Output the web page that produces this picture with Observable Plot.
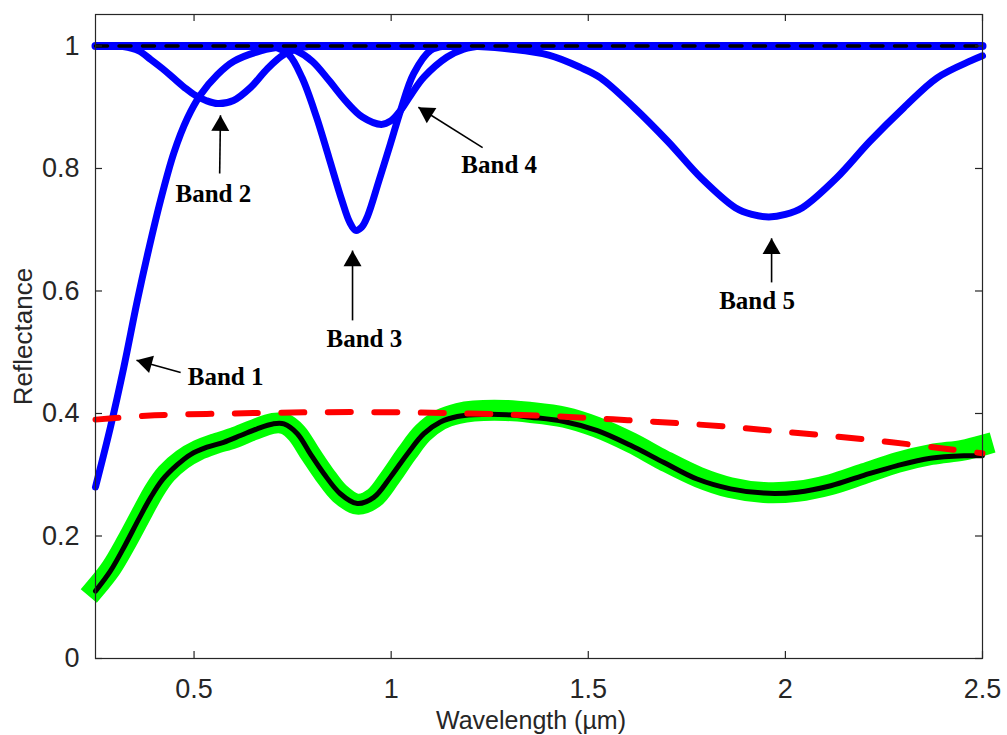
<!DOCTYPE html>
<html>
<head>
<meta charset="utf-8">
<script src="https://cdn.jsdelivr.net/npm/d3@7"></script>
<script src="https://cdn.jsdelivr.net/npm/@observablehq/plot@0.6"></script>
<style>
  body { margin: 0; background: #fff; }
</style>
</head>
<body>
<div id="chart"></div>
<script>
// ---------- data ----------
const xTicks = [0.5, 1, 1.5, 2, 2.5];
const yTicks = [0, 0.2, 0.4, 0.6, 0.8, 1];

const unityLine = [[0.25, 1], [2.5, 1]];

const band1 = [[0.25,0.280],[0.288,0.378],[0.322,0.476],[0.356,0.584],[0.385,0.668],[0.415,0.748],
  [0.449,0.826],[0.483,0.882],[0.516,0.920],[0.559,0.953],[0.601,0.975],[0.669,0.992],[0.73,0.999],
  [0.80,1.0],[0.85,1.0]];

const band2 = [[0.28,1.0],[0.32,0.999],[0.36,0.992],[0.39,0.978],[0.42,0.963],[0.449,0.947],[0.48,0.930],
  [0.504,0.919],[0.53,0.911],[0.56,0.906],[0.60,0.911],[0.643,0.932],[0.686,0.963],[0.728,0.986],
  [0.77,0.997],[0.81,1.0],[0.85,1.0]];

const band3 = [[0.66,1.0],[0.70,0.999],[0.74,0.986],[0.774,0.948],[0.81,0.885],[0.842,0.818],
  [0.875,0.748],[0.895,0.712],[0.91,0.699],[0.925,0.704],[0.94,0.722],[0.969,0.780],[0.998,0.840],
  [1.024,0.895],[1.057,0.955],[1.10,0.993],[1.14,1.0],[1.18,1.0]];

const band4 = [[0.68,1.0],[0.72,0.999],[0.757,0.993],[0.80,0.975],[0.842,0.944],[0.885,0.910],[0.927,0.884],
  [0.975,0.872],[1.0,0.878],[1.024,0.895],[1.05,0.920],[1.083,0.949],[1.142,0.982],[1.184,0.995],
  [1.23,1.0],[1.27,1.0]];

const band5 = [[1.15,1.0],[1.22,0.999],[1.3,0.995],[1.4,0.985],[1.48,0.965],[1.531,0.948],[1.617,0.899],
  [1.702,0.844],[1.787,0.784],[1.873,0.736],[1.915,0.725],[1.958,0.721],[2.0,0.725],[2.043,0.736],
  [2.129,0.784],[2.214,0.844],[2.30,0.899],[2.385,0.948],[2.471,0.976],[2.5,0.984]];

const measured = [[0.25,0.115],[0.29,0.148],[0.33,0.192],[0.37,0.240],[0.40,0.275],[0.43,0.302],[0.47,0.325],
  [0.51,0.340],[0.55,0.350],[0.60,0.360],[0.65,0.373],[0.70,0.384],[0.73,0.383],[0.76,0.368],[0.795,0.334],
  [0.83,0.301],[0.87,0.269],[0.914,0.252],[0.956,0.262],[0.998,0.296],[1.04,0.335],[1.08,0.368],
  [1.125,0.390],[1.17,0.400],[1.21,0.404],[1.29,0.405],[1.35,0.402],[1.44,0.394],[1.52,0.378],
  [1.61,0.352],[1.69,0.324],[1.78,0.296],[1.86,0.279],[1.945,0.271],[2.03,0.273],[2.115,0.284],
  [2.2,0.302],[2.284,0.320],[2.37,0.333],[2.45,0.340],[2.5,0.348]];

const modeled = [[0.25,0.110],[0.288,0.143],[0.325,0.185],[0.36,0.228],[0.39,0.263],[0.42,0.292],[0.457,0.316],
  [0.491,0.333],[0.533,0.345],[0.575,0.353],[0.618,0.364],[0.66,0.375],[0.70,0.383],[0.728,0.383],
  [0.762,0.367],[0.795,0.334],[0.829,0.302],[0.871,0.269],[0.914,0.253],[0.956,0.263],[0.998,0.296],
  [1.041,0.334],[1.083,0.367],[1.125,0.386],[1.168,0.395],[1.21,0.398],[1.294,0.398],[1.353,0.394],
  [1.438,0.387],[1.523,0.372],[1.607,0.348],[1.692,0.320],[1.776,0.293],[1.861,0.277],[1.945,0.270],
  [2.03,0.2715],[2.115,0.282],[2.199,0.299],[2.284,0.315],[2.368,0.327],[2.453,0.331],[2.5,0.331]];

const continuum = [[0.25,0.390],[0.40,0.397],[0.60,0.400],[0.80,0.402],[1.0,0.402],[1.2,0.400],[1.4,0.396],
  [1.6,0.389],[1.8,0.381],[2.0,0.370],[2.2,0.358],[2.4,0.343],[2.5,0.335]];

const bandLabels = ["Band 1", "Band 2", "Band 3", "Band 4", "Band 5"];
const labelX = [0.580, 0.549, 0.932, 1.274, 1.928];
const labelY = [0.460, 0.758, 0.522, 0.805, 0.583];
const arrowFromX = [0.466, 0.565, 0.902, 1.232, 1.965];
const arrowFromY = [0.467, 0.792, 0.552, 0.834, 0.614];
const arrowToX = [0.354, 0.567, 0.902, 1.069, 1.965];
const arrowToY = [0.487, 0.887, 0.666, 0.900, 0.686];

const xLabel = "Wavelength (µm)";
const yLabel = "Reflectance";

// ---------- build ----------
const rows = pts => pts.map(([x, y]) => ({x, y}));
const annotations = bandLabels.map((label, i) => ({
  label, tx: labelX[i], ty: labelY[i],
  x1: arrowFromX[i], y1: arrowFromY[i], x2: arrowToX[i], y2: arrowToY[i]
}));

const W = 1007, H = 735;
const mL = 95, mR = 25, mT = 14, mB = 77;
const innerW = W - mL - mR;
const innerH = H - mT - mB;
const xDomain = [0.25, 2.5];
const yDomain = [0, 1.0514];
const axisColor = "#262626";
const sans = "'Liberation Sans', Arial, Helvetica, sans-serif";
const serif = "'Liberation Serif', 'Times New Roman', serif";

const blue = "#0000ff";
const smooth = "catmull-rom";
const bandMarks = [band1, band2, band3, band4, band5].map(b =>
  Plot.line(rows(b), {x: "x", y: "y", stroke: blue, strokeWidth: 7, curve: smooth}));

// filled arrow heads: a triangle symbol rotated along each arrow, tip on the arrow end
const kx = innerW / (xDomain[1] - xDomain[0]);
const ky = innerH / (yDomain[1] - yDomain[0]);
const headHalf = 5.2;
const headR = Math.sqrt(3 * Math.sqrt(3) * headHalf * headHalf / Math.PI);
const headMarks = annotations.map(a => {
  const vx = (a.x2 - a.x1) * kx, vy = -(a.y2 - a.y1) * ky;
  const L = Math.hypot(vx, vy), ux = vx / L, uy = vy / L;
  const rot = Math.atan2(ux, -uy) * 180 / Math.PI;
  return Plot.dot([a], {x: "x2", y: "y2", symbol: "triangle", r: headR, fill: "#000", stroke: "none",
    rotate: rot, dx: -ux * 2 * headHalf, dy: -uy * 2 * headHalf});
});

const svg = Plot.plot({
  width: W, height: H,
  marginLeft: mL, marginRight: mR, marginTop: mT, marginBottom: mB,
  style: {fontFamily: sans, fontSize: "27px", color: axisColor, background: "#fff"},
  x: {domain: xDomain, ticks: xTicks, tickFormat: d => String(d), tickSize: 0, tickPadding: 20, label: null},
  y: {domain: yDomain, ticks: yTicks, tickFormat: d => String(d), tickSize: 0, tickPadding: 16, label: null},
  marks: [
    ...bandMarks,
    Plot.line(rows(unityLine), {x: "x", y: "y", stroke: blue, strokeWidth: 8}),
    Plot.line(rows(unityLine), {x: "x", y: "y", stroke: "#000", strokeWidth: 3.5, strokeDasharray: "12,11.5"}),
    Plot.line(rows(measured), {x: "x", y: "y", stroke: "#00ff00", strokeWidth: 21, strokeLinecap: "square", strokeLinejoin: "round", curve: smooth}),
    Plot.line(rows(modeled), {x: "x", y: "y", stroke: "#000", strokeWidth: 5, curve: smooth}),
    Plot.line(rows(continuum), {x: "x", y: "y", stroke: "#ff0000", strokeWidth: 6, strokeDasharray: "23,23.5", curve: smooth}),
    Plot.frame({stroke: axisColor, strokeWidth: 1.2}),
    Plot.tickX(xTicks, {x: d => d, stroke: axisColor, strokeWidth: 1.2, insetTop: innerH - 7}),
    Plot.tickX(xTicks, {x: d => d, stroke: axisColor, strokeWidth: 1.2, insetBottom: innerH - 7}),
    Plot.tickY(yTicks, {y: d => d, stroke: axisColor, strokeWidth: 1.2, insetRight: innerW - 7}),
    Plot.tickY(yTicks, {y: d => d, stroke: axisColor, strokeWidth: 1.2, insetLeft: innerW - 7}),
    Plot.text([xLabel], {frameAnchor: "bottom", text: d => d, textAnchor: "middle", lineAnchor: "top", dy: 53, dx: -8, fontSize: 25, fill: axisColor, fontFamily: sans}),
    Plot.text([yLabel], {frameAnchor: "left", text: d => d, textAnchor: "middle", lineAnchor: "middle", rotate: -90, dx: -72, fontSize: 26, fill: axisColor, fontFamily: sans}),
    Plot.link(annotations, {x1: "x1", y1: "y1", x2: "x2", y2: "y2", stroke: "#000", strokeWidth: 1.6}),
    ...headMarks,
    Plot.text(annotations, {x: "tx", y: "ty", text: "label", fontFamily: serif, fontWeight: "bold", fontSize: 25, fill: "#000"})
  ]
});

document.getElementById("chart").appendChild(svg);
</script>
</body>
</html>
